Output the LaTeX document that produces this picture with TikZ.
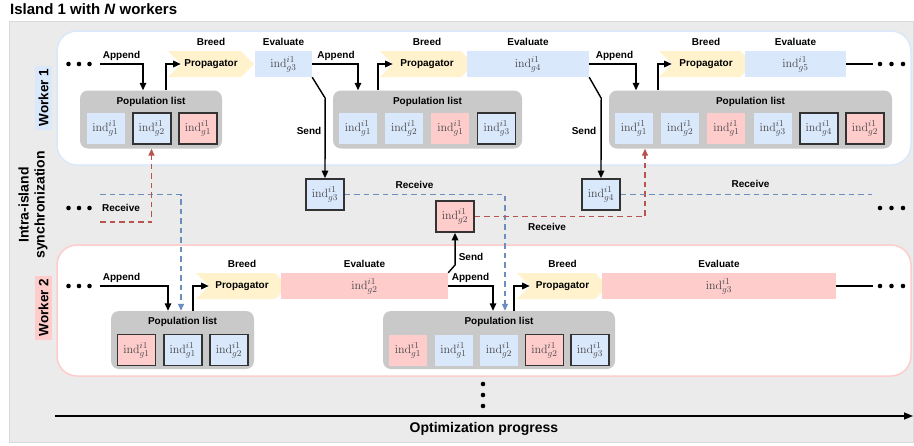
\documentclass[tikz,border=0pt]{standalone}
\usepackage[no-math]{fontspec}
\setmainfont{Liberation Sans}
\usepackage{tikz}
\usetikzlibrary{calc}
\usetikzlibrary{arrows.meta}
\usetikzlibrary{shapes.symbols}
\usetikzlibrary{positioning}
\definecolor{indblue}{HTML}{DAE8FC}
\definecolor{indred}{HTML}{FFCCCC}
\definecolor{propyellow}{HTML}{FFF2CC}
\definecolor{listgray}{HTML}{C9C9C9}
\definecolor{islandgray}{HTML}{EBEBEB}
\definecolor{recvblue}{HTML}{6C8EBF}
\definecolor{recvred}{HTML}{B85450}
\newcommand{\indv}[1]{$\mathrm{ind}^{i1}_{g#1}$}
\newcommand{\lblfont}{\bfseries\fontsize{10}{12}\selectfont}
\tikzset{lbl/.style={font=\lblfont}}
\tikzset{indb/.style={rectangle,fill=indblue,minimum width=38pt,minimum height=31pt,inner sep=0pt,text=black!72,font=\fontsize{12.5}{13}\selectfont}}
\tikzset{indr/.style={indb,fill=indred}}
\tikzset{indB/.style={indb,draw=black!80,line width=1.7pt}}
\tikzset{indR/.style={indr,draw=black!80,line width=1.7pt}}
\tikzset{prop/.style={signal,signal from=west,signal to=east,fill=propyellow,minimum height=26pt,inner sep=0pt,font=\lblfont}}
\tikzset{evalb/.style={rectangle,fill=indblue,minimum height=26pt,inner sep=0pt,text=black!72,font=\fontsize{12.5}{13}\selectfont}}
\tikzset{evalr/.style={evalb,fill=indred}}
\tikzset{poplist/.style={rectangle,rounded corners=8pt,fill=listgray,minimum height=58pt,inner sep=0pt,label={[lbl,anchor=north,yshift=-3pt]north:Population list}}}
\tikzset{flow/.style={-{Triangle[length=7.5pt,width=6.5pt]},line width=1.4pt}}
\tikzset{wire/.style={line width=1.4pt}}
\tikzset{recvb/.style={draw=recvblue,line width=1.5pt,dash pattern=on 5.5pt off 4pt}}
\tikzset{recvr/.style={recvb,draw=recvred}}
\tikzset{tip/.style={-{Triangle[length=7pt,width=6pt]}}}

\begin{document}
\begin{tikzpicture}[x=1pt,y=-1pt]
\useasboundingbox (0,0) rectangle (914,445);

% island and lanes
\draw[fill=islandgray,draw=black!15] (9,21) rectangle (913,442);
\draw[fill=white,draw=indblue,line width=1.5pt,rounded corners=20pt] (57,31) rectangle (911,165);
\draw[fill=white,draw=indred,line width=1.5pt,rounded corners=20pt] (57,245) rectangle (911,376);

\node[anchor=west,inner sep=0pt,font=\bfseries\fontsize{15}{18}\selectfont] (title) at (10,9.5) {Island 1 with \textit{N} workers};
\node[rotate=90,fill=indblue,font=\bfseries\fontsize{13.5}{16}\selectfont,minimum width=64pt,minimum height=17pt,inner sep=0pt] (wone) at (43.5,97.5) {Worker 1};
\node[rotate=90,fill=indred,font=\bfseries\fontsize{13.5}{16}\selectfont,minimum width=64pt,minimum height=17pt,inner sep=0pt] (wtwo) at (43.5,307.5) {Worker 2};
\node[rotate=90,align=center,font=\bfseries\fontsize{14}{16}\selectfont] (sync) at (33,205) {Intra-island\\synchronization};

% worker 1
\node[prop,minimum width=86pt] (P1) at (211,64) {Propagator};
\node[evalb,minimum width=57pt] (E1) at (283.5,64) {\indv{3}};
\node[prop,minimum width=94pt] (P2) at (427,64) {Propagator};
\node[evalb,minimum width=122pt] (E2) at (528,64) {\indv{4}};
\node[prop,minimum width=94pt] (P3) at (706,64) {Propagator};
\node[evalb,minimum width=101pt] (E3) at (795.5,64) {\indv{5}};

\node[poplist,minimum width=142pt] (L1) at (151,119.5) {};
\node[poplist,minimum width=189pt] (L2) at (427.5,119.5) {};
\node[poplist,minimum width=283pt] (L3) at (750.5,119.5) {};
\foreach \k/\s/\g in {1/indb/1,2/indB/2,3/indR/1}
	\node[\s] (L1i\k) at (105.5+46.2*\k-46.2,128.5) {\indv{\g}};
\foreach \k/\s/\g in {1/indb/1,2/indb/2,3/indr/1,4/indB/3}
	\node[\s] (L2i\k) at (358+46.2*\k-46.2,128.5) {\indv{\g}};
\foreach \k/\s/\g in {1/indb/1,2/indb/2,3/indr/1,4/indb/3,5/indB/4,6/indR/2}
	\node[\s] (L3i\k) at (634+46.2*\k-46.2,128.5) {\indv{\g}};

% worker 2
\node[prop,minimum width=92pt] (P4) at (242,286) {Propagator};
\node[evalr,minimum width=167pt] (E4) at (364.5,286) {\indv{2}};
\node[prop,minimum width=91pt] (P5) at (562.5,286) {Propagator};
\node[evalr,minimum width=234pt] (E5) at (719,286) {\indv{3}};

\node[poplist,minimum width=143pt] (L4) at (182.5,340) {};
\node[poplist,minimum width=232pt] (L5) at (499,340) {};
\foreach \k/\s/\g in {1/indR/1,2/indB/1,3/indB/2}
	\node[\s] (L4i\k) at (136.5+46.2*\k-46.2,350) {\indv{\g}};
\foreach \k/\s/\g in {1/indr/1,2/indb/1,3/indb/2,4/indR/2,5/indB/3}
	\node[\s] (L5i\k) at (408+45.5*\k-45.5,350) {\indv{\g}};

\foreach \i in {1,...,5} {
	\node[lbl,above=2pt of P\i] (B\i) {Breed};
	\node[lbl,above=2pt of E\i] (V\i) {Evaluate};
}

% exchanged individuals
\node[indB] (Sg3) at (325,194.5) {\indv{3}};
\node[indB] (Sg4) at (601,194.5) {\indv{4}};
\node[indR] (Rg2) at (455,216.5) {\indv{2}};

\node[lbl] (A1) at (121.5,56) {Append};
\node[lbl] (A2) at (336,56) {Append};
\node[lbl] (A3) at (614.5,56) {Append};
\node[lbl] (A4) at (121.5,278) {Append};
\node[lbl] (A5) at (470.5,278) {Append};
\node[lbl] (S1) at (309,131) {Send};
\node[lbl] (S2) at (584,131) {Send};
\node[lbl] (S3) at (471,257) {Send};
\node[lbl] (R1) at (121,208) {Receive};
\node[lbl] (R2) at (414.5,185) {Receive};
\node[lbl] (R3) at (750.5,184) {Receive};
\node[lbl] (R4) at (547,227) {Receive};

\coordinate (W1in) at (100,64);
\coordinate (W1out) at (873,64);
\coordinate (W2in) at (100,286);
\coordinate (W2out) at (873,286);
\coordinate (Lb) at (100,194.5);
\coordinate (Lr) at (100,222);
\coordinate (Sg4out) at (872,194.5);
\coordinate (t0) at (55,416);
\coordinate (t1) at (913,416);

% flow of worker 1
\draw[flow] (W1in) -| ([xshift=-8pt]L1.north);
\draw[flow] ([xshift=15pt]L1.north) |- (P1.west);
\draw[flow] (E1.east) -| ([xshift=-69.5pt]L2.north);
\draw[flow] ([xshift=-49.5pt]L2.north) |- (P2.west);
\draw[flow] (E2.east) -| ([xshift=-114.5pt]L3.north);
\draw[flow] ([xshift=-92.5pt]L3.north) |- (P3.west);
\draw[wire] (E3.east) -- (W1out);
\draw[flow] (E1.south east) -- ++(13,21) -- (Sg3.north);
\draw[flow] (E2.south east) -- ++(12,21) -- (Sg4.north);

% flow of worker 2
\draw[flow] (W2in) -| ([xshift=-14.5pt]L4.north);
\draw[flow] ([xshift=10.5pt]L4.north) |- (P4.west);
\draw[flow] (E4.east) -| ([xshift=-6pt]L5.north);
\draw[flow] ([xshift=15pt]L5.north) |- (P5.west);
\draw[wire] (E5.east) -- (W2out);
\draw[flow] (E4.north east) -- ++(7,-8) -- (Rg2.south);

% synchronization
\draw[recvb,tip] (Lb) -| ([xshift=-1.5pt]L4.north);
\draw[recvr,tip] (Lr) -| ([xshift=0.5pt]L1.south);
\draw[recvb,tip] (Sg3.east) -| ([xshift=6pt]L5.north);
\draw[recvr,tip] (Rg2.east) -| ([xshift=-105.5pt]L3.south);
\draw[recvb] (Sg4.east) -- (Sg4out);

% dots
\foreach \y in {64,208,286} {
	\foreach \x in {68.5,79,89.5} \fill (\x,\y) circle (2.3pt);
	\foreach \x in {880,891.5,903} \fill (\x,\y) circle (2.3pt);
}
\foreach \y in {384,395,406} \fill (483,\y) circle (2.3pt);

\draw[-{Triangle[length=9pt,width=7pt]},line width=1.5pt] (t0) -- (t1);
\node[font=\bfseries\fontsize{14}{16}\selectfont] (prog) at (484,428.5) {Optimization progress};

\end{tikzpicture}
\end{document}
